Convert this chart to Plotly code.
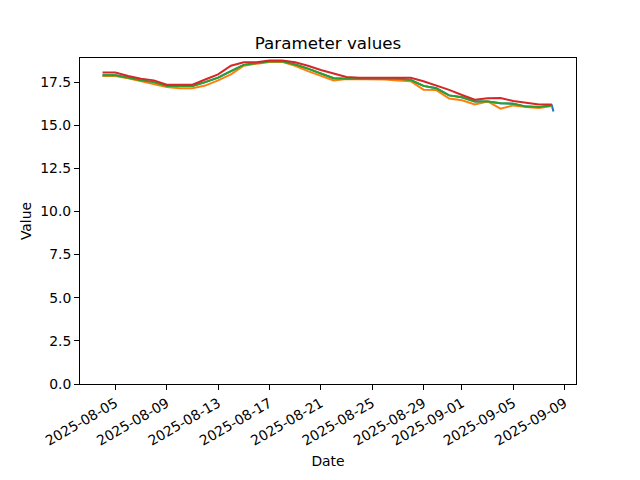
import pandas as pd
import plotly.graph_objects as go

dates = pd.date_range("2025-08-04", "2025-09-08", freq="D")

series_names = ["Series 1", "Series 2", "Series 3", "Series 4"]

blue_values = [17.9, 17.9, 17.75, 17.6, 17.5, 17.27, 17.27, 17.27, 17.5, 17.76,
               18.14, 18.5, 18.6, 18.7, 18.7, 18.52, 18.28, 18.0, 17.72, 17.7,
               17.7, 17.7, 17.7, 17.7, 17.62, 17.28, 17.14, 16.73, 16.62, 16.38,
               16.38, 16.27, 16.25, 16.08, 16.05, 16.15, 15.8]
blue_dates = list(dates) + [pd.Timestamp("2025-09-08 03:00")]

orange_values = [17.85, 17.85, 17.72, 17.56, 17.42, 17.22, 17.15, 17.15, 17.3, 17.6,
                 17.95, 18.45, 18.57, 18.66, 18.68, 18.45, 18.14, 17.88, 17.6, 17.68,
                 17.68, 17.65, 17.65, 17.6, 17.55, 17.06, 17.04, 16.55, 16.45, 16.2,
                 16.38, 15.96, 16.15, 16.05, 16.0, 16.12]

green_values = [17.9, 17.9, 17.75, 17.6, 17.5, 17.27, 17.27, 17.27, 17.5, 17.76,
                18.14, 18.5, 18.6, 18.7, 18.7, 18.52, 18.28, 18.0, 17.72, 17.7,
                17.7, 17.7, 17.7, 17.7, 17.62, 17.28, 17.14, 16.73, 16.62, 16.38,
                16.38, 16.27, 16.25, 16.08, 16.05, 16.15]

red_values = [18.05, 18.05, 17.85, 17.7, 17.6, 17.35, 17.35, 17.35, 17.65, 17.95,
              18.45, 18.65, 18.65, 18.75, 18.75, 18.65, 18.45, 18.2, 18.0, 17.8,
              17.75, 17.75, 17.75, 17.75, 17.75, 17.55, 17.3, 17.05, 16.75, 16.48,
              16.56, 16.58, 16.4, 16.28, 16.2, 16.2]

x_tick_labels = ["2025-08-05", "2025-08-09", "2025-08-13", "2025-08-17", "2025-08-21",
                 "2025-08-25", "2025-08-29", "2025-09-01", "2025-09-05", "2025-09-09"]
y_tick_values = [0.0, 2.5, 5.0, 7.5, 10.0, 12.5, 15.0, 17.5]

colors = ["#1f77b4", "#ff7f0e", "#2ca02c", "#d62728"]

fig = go.Figure()
all_series = [
    (blue_dates, blue_values),
    (list(dates), orange_values),
    (list(dates), green_values),
    (list(dates), red_values),
]
for (xs, ys), name, c in zip(all_series, series_names, colors):
    fig.add_trace(go.Scatter(x=xs, y=ys, mode="lines", name=name,
                             line=dict(color=c, width=2)))

# matplotlib-like autoscale with 5% margins
xmin = min(min(s[0]) for s in all_series)
xmax = max(max(s[0]) for s in all_series)
span = xmax - xmin
x_range = [xmin - span * 0.05, xmax + span * 0.05]
all_y = [v for s in all_series for v in s[1]]
ymax = max(all_y) + 0.05 * (max(all_y) - min(all_y))

font = "DejaVu Sans"
# page body has an 8px margin, so the figure sits at (8, 8) in the window
fig.update_layout(
    width=640, height=480,
    margin=dict(l=72, r=72, t=50, b=104),
    paper_bgcolor="white", plot_bgcolor="white",
    showlegend=False,
    font=dict(family=font, size=14, color="black"),
    title=dict(text="Parameter values", x=0.5, xref="paper", xanchor="center",
               y=1 - 35 / 480, yanchor="middle", font=dict(size=16.7, family=font)),
)
fig.update_xaxes(
    range=x_range, automargin=False,
    tickmode="array", tickvals=pd.to_datetime(x_tick_labels), ticktext=x_tick_labels,
    tickangle=-30, ticks="outside", ticklen=5, tickwidth=1, tickcolor="black",
    showline=True, linecolor="black", linewidth=1, mirror=True,
    showgrid=False, zeroline=False,
    title=dict(text="Date", font=dict(size=13.9), standoff=8),
    tickfont=dict(size=13.9),
)
fig.update_yaxes(
    range=[0, ymax], automargin=False,
    tickmode="array", tickvals=y_tick_values,
    ticktext=[f"{v:.1f}" for v in y_tick_values],
    ticks="outside", ticklen=5, tickwidth=1, tickcolor="black",
    showline=True, linecolor="black", linewidth=1, mirror=True,
    showgrid=False, zeroline=False,
    title=dict(text="Value", font=dict(size=13.9), standoff=5),
    tickfont=dict(size=13.9),
)

fig.write_html("out.html")
